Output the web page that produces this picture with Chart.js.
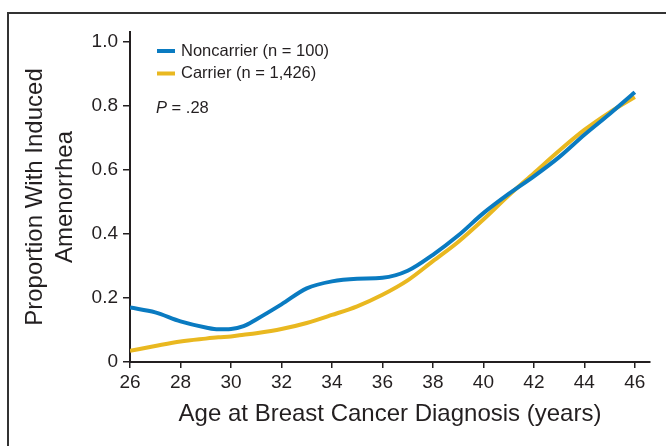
<!DOCTYPE html>
<html>
<head>
<meta charset="utf-8">
<script src="https://cdn.jsdelivr.net/npm/chart.js@4.4.1/dist/chart.umd.min.js"></script>
<style>
    html, body { margin: 0; padding: 0; background: #fff; overflow: hidden; }
    #wrap { position: relative; width: 666px; height: 446px; }
    #frame { position: absolute; left: 7px; top: 12px; width: 720px; height: 500px;
             border-left: 2px solid #333; border-top: 2px solid #333; }
    #amenorrheaChart { position: absolute; left: 0; top: 0; }
</style>
</head>
<body>
<div id="wrap">
    <div id="frame"></div>
    <canvas id="amenorrheaChart" width="666" height="446"></canvas>
</div>
<script>
// Age at diagnosis (years) and estimated proportions
const ages = [26, 27, 28, 29, 29.5, 30, 30.5, 31, 32, 33, 34, 35, 36, 37, 38, 39, 40, 41, 42, 43, 44, 45, 46];
const noncarrier = [0.170, 0.155, 0.127, 0.108, 0.102, 0.103, 0.112, 0.133, 0.180, 0.230, 0.252, 0.260, 0.263, 0.285, 0.335, 0.395, 0.465, 0.525, 0.580, 0.640, 0.710, 0.775, 0.843];
const carrier = [0.035, 0.050, 0.064, 0.073, 0.077, 0.080, 0.085, 0.090, 0.103, 0.122, 0.147, 0.174, 0.210, 0.255, 0.315, 0.375, 0.445, 0.520, 0.590, 0.660, 0.725, 0.780, 0.828];
const seriesLabels = ["Noncarrier (n = 100)", "Carrier (n = 1,426)"];
const xTicks = [26, 28, 30, 32, 34, 36, 38, 40, 42, 44, 46];
const yTicks = [0, 0.2, 0.4, 0.6, 0.8, 1.0];
const pValueText = " = .28";

const FONT = "'Liberation Sans', Arial, Helvetica, sans-serif";
const INK = "#231f20";
const BLUE = "#0a7bc1";
const YELLOW = "#e9b820";

function toPoints(values) {
    return ages.map((a, i) => ({ x: a, y: values[i] }));
}

// legend and P value drawn inside the plot area, top-left
const insideLegend = {
    id: "insideLegend",
    afterDraw(chart) {
        const ctx = chart.ctx;
        ctx.save();
        ctx.font = "16.5px " + FONT;
        ctx.textBaseline = "middle";
        ctx.textAlign = "left";
        chart.data.datasets.forEach((ds, i) => {
            const y = 51 + i * 22.5;
            ctx.fillStyle = ds.borderColor;
            ctx.fillRect(157, y - 2, 18, 4);
            ctx.fillStyle = INK;
            ctx.fillText(ds.label, 181, y);
        });
        ctx.font = "italic 16.5px " + FONT;
        ctx.fillText("P", 156, 108);
        const w = ctx.measureText("P").width;
        ctx.font = "16.5px " + FONT;
        ctx.fillText(pValueText, 156 + w, 108);
        ctx.restore();
    }
};

const ctx = document.getElementById("amenorrheaChart").getContext("2d");
new Chart(ctx, {
    type: "line",
    data: {
        datasets: [
            {
                label: seriesLabels[0],
                data: toPoints(noncarrier),
                borderColor: BLUE,
                backgroundColor: BLUE,
                borderWidth: 4,
                pointRadius: 0,
                fill: false,
                cubicInterpolationMode: "monotone",
            },
            {
                label: seriesLabels[1],
                data: toPoints(carrier),
                borderColor: YELLOW,
                backgroundColor: YELLOW,
                borderWidth: 4,
                pointRadius: 0,
                fill: false,
                cubicInterpolationMode: "monotone",
            },
        ],
    },
    options: {
        responsive: false,
        animation: false,
        layout: { padding: { left: 0, top: 32, right: 16, bottom: 0 } },
        plugins: {
            legend: { display: false },
            tooltip: { enabled: false },
        },
        scales: {
            x: {
                type: "linear",
                min: 26,
                max: 46.6,
                afterBuildTicks: (scale) => { scale.ticks = xTicks.map(v => ({ value: v })); },
                afterFit: (scale) => { scale.height = 84; },
                grid: { drawOnChartArea: false, drawTicks: true, tickLength: 6, color: INK, lineWidth: 1.5 },
                border: { color: INK, width: 2 },
                ticks: { color: INK, font: { family: FONT, size: 19 }, padding: 3, maxRotation: 0 },
                title: {
                    display: true,
                    text: "Age at Breast Cancer Diagnosis (years)",
                    color: INK,
                    font: { family: FONT, size: 24 },
                    padding: { top: 0, bottom: 17 },
                },
            },
            y: {
                type: "linear",
                min: 0,
                max: 1.031,
                afterBuildTicks: (scale) => { scale.ticks = yTicks.map(v => ({ value: v })); },
                afterFit: (scale) => { scale.width = 130; },
                grid: { drawOnChartArea: false, drawTicks: true, tickLength: 7, color: INK, lineWidth: 1.5 },
                border: { color: INK, width: 2 },
                ticks: {
                    color: INK,
                    font: { family: FONT, size: 19 },
                    padding: 5,
                    callback: (v) => v === 0 ? "0" : v.toFixed(1),
                },
                title: {
                    display: true,
                    text: ["Proportion With Induced", "Amenorrhea"],
                    color: INK,
                    font: { family: FONT, size: 24, lineHeight: 1.25 },
                    padding: { top: 20, bottom: 0 },
                },
            },
        },
    },
    plugins: [insideLegend],
});
</script>
</body>
</html>
